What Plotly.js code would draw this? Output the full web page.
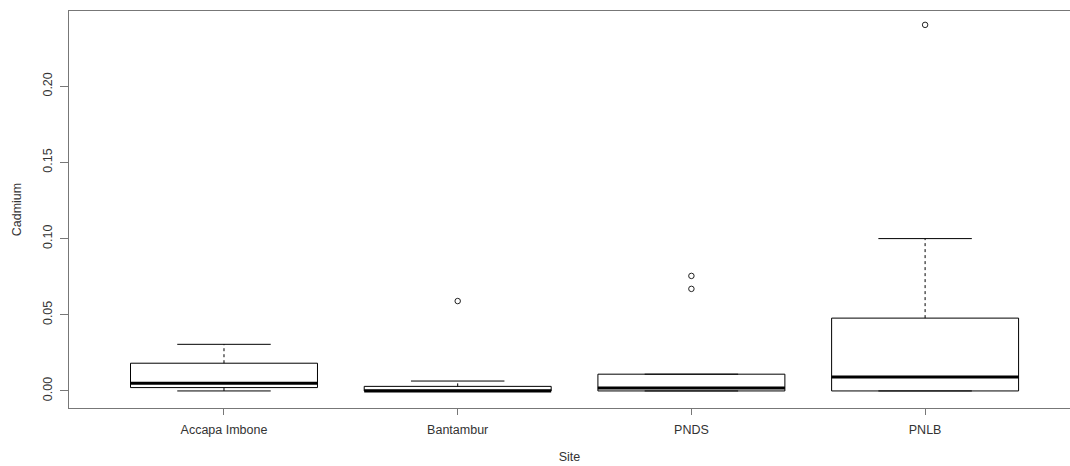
<!DOCTYPE html>
<html>
<head>
<meta charset="utf-8">
<script src="https://cdn.plot.ly/plotly-3.0.1.min.js"></script>
<style>
html,body{margin:0;padding:0;background:#fff;overflow:hidden;}
#chart{width:1070px;height:466px;}
</style>
</head>
<body>
<div id="chart"></div>
<script>
// Data
const sites = ["Accapa Imbone", "Bantambur", "PNDS", "PNLB"];
const lowerWhisker = [0.0, 0.0, 0.0, 0.0];
const q1 = [0.0022, 0.0, 0.0, 0.0];
const median = [0.005, 0.0, 0.002, 0.0092];
const q3 = [0.0182, 0.003, 0.011, 0.0478];
const upperWhisker = [0.0306, 0.0065, 0.011, 0.100];
const outlierSite = ["Bantambur", "PNDS", "PNDS", "PNLB"];
const outlierValue = [0.059, 0.067, 0.0755, 0.2403];
const yTicks = [0, 0.05, 0.10, 0.15, 0.20];

const pos = sites.map((s, i) => i + 1);
const posOf = s => sites.indexOf(s) + 1;
const boxW = 0.8, capHalf = 0.2;

// dashed whiskers
const wx = [], wy = [];
pos.forEach((p, i) => {
  wx.push(p, p, null, p, p, null);
  wy.push(lowerWhisker[i], q1[i], null, q3[i], upperWhisker[i], null);
});
// caps
const cx = [], cy = [];
pos.forEach((p, i) => {
  cx.push(p - capHalf, p + capHalf, null, p - capHalf, p + capHalf, null);
  cy.push(lowerWhisker[i], lowerWhisker[i], null, upperWhisker[i], upperWhisker[i], null);
});
// thick medians
const mx = [], my = [];
pos.forEach((p, i) => {
  mx.push(p - boxW / 2, p + boxW / 2, null);
  my.push(median[i], median[i], null);
});

const traces = [
  {type: "scatter", mode: "lines", x: wx, y: wy, hoverinfo: "skip",
   line: {color: "#000", width: 1, dash: "3px,3px"}, showlegend: false},
  {type: "box", x: pos, q1: q1, median: median, q3: q3,
   lowerfence: q1, upperfence: q3, width: boxW, whiskerwidth: 0,
   boxpoints: false, fillcolor: "rgba(255,255,255,0)",
   line: {color: "#000", width: 1}, showlegend: false},
  {type: "scatter", mode: "lines", x: cx, y: cy, hoverinfo: "skip",
   line: {color: "#000", width: 1}, showlegend: false},
  {type: "scatter", mode: "lines", x: mx, y: my, hoverinfo: "skip",
   line: {color: "#000", width: 3}, showlegend: false},
  {type: "scatter", mode: "markers", x: outlierSite.map(posOf), y: outlierValue,
   marker: {symbol: "circle-open", size: 5.5, color: "#222", line: {width: 1}},
   showlegend: false}
];

const font = {family: "Liberation Sans, Arial, sans-serif", size: 12.5, color: "#333"};
const layout = {
  width: 1070, height: 466,
  margin: {l: 69, r: 0, t: 11, b: 58},
  paper_bgcolor: "#fff", plot_bgcolor: "#fff",
  font: font,
  showlegend: false,
  xaxis: {
    range: [0.3368, 4.62], showgrid: false, zeroline: false,
    showline: true, mirror: true, linecolor: "#777", linewidth: 1,
    ticks: "outside", ticklen: 6, tickcolor: "#777",
    tickvals: pos, ticktext: sites, ticklabelstandoff: 4,
    title: {text: "Site", font: font, standoff: 16}
  },
  yaxis: {
    range: [-0.0112, 0.2494], showgrid: false, zeroline: false,
    showline: true, linecolor: "#777", linewidth: 1,
    ticks: "outside", ticklen: 8, tickcolor: "#777",
    tickvals: yTicks, ticktext: yTicks.map(v => v.toFixed(2)),
    tickangle: -90, ticklabelstandoff: 3,
    title: {text: "Cadmium", font: font, standoff: 16}
  }
};

Plotly.newPlot("chart", traces, layout, {staticPlot: true, displayModeBar: false});
</script>
</body>
</html>
